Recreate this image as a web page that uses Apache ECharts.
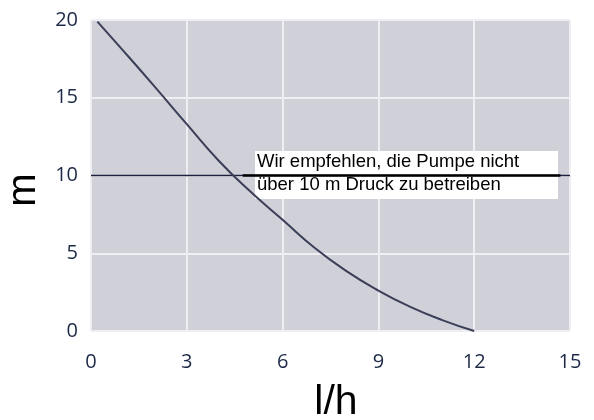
<!DOCTYPE html>
<html>
<head>
<meta charset="utf-8">
<script src="https://cdn.jsdelivr.net/npm/echarts@6/dist/echarts.min.js"></script>
<style>
html,body{margin:0;padding:0;background:#fff;}
#chart{width:594px;height:420px;}
</style>
</head>
<body>
<div id="chart"></div>
<script>
// Data
const xTicks = [0, 3, 6, 9, 12, 15];
const yTicks = [0, 5, 10, 15, 20];
const flow = [0.2, 1, 2, 3, 4, 5, 6, 7, 8, 9, 10, 11, 12];                          // l/h
const head = [19.9, 18.05, 15.7, 13.3, 10.95, 8.95, 7.15, 5.35, 3.85, 2.6, 1.55, 0.7, 0]; // m
const limitX = [0, 15];
const limitY = [10, 10];
const limitBoxX = [4.75, 14.7];
const noteLines = ['Wir empfehlen, die Pumpe nicht', 'über 10 m Druck zu betreiben'];
const xName = 'l/h';
const yName = 'm';

const chart = echarts.init(document.getElementById('chart'), null, {renderer: 'canvas'});
const labelStyle = {color: '#1d2947', fontSize: 20, fontFamily: 'Open Sans'};

chart.setOption({
  animation: false,
  grid: {left: 91, right: 24, top: 20, bottom: 89, show: true, backgroundColor: '#cfd0d8',
         borderWidth: 0, containLabel: false, outerBoundsMode: 'none'},
  xAxis: {
    type: 'value', min: xTicks[0], max: xTicks[xTicks.length - 1], interval: 3,
    axisLine: {show: false}, axisTick: {show: false},
    axisLabel: Object.assign({margin: 21}, labelStyle),
    splitLine: {show: true, lineStyle: {color: '#eeeef3', width: 2}}
  },
  yAxis: {
    type: 'value', min: yTicks[0], max: yTicks[yTicks.length - 1], interval: 5,
    axisLine: {show: false}, axisTick: {show: false},
    axisLabel: Object.assign({margin: 13}, labelStyle),
    splitLine: {show: true, lineStyle: {color: '#eeeef3', width: 2}}
  },
  graphic: [
    {type: 'rect', left: 255, top: 151, z: 1,
     shape: {x: 0, y: 0, width: 303, height: 48}, style: {fill: '#ffffff'}},
    {type: 'text', left: 257, top: 150.5, z: 10, style: {
      text: noteLines.join('\n'), fill: '#000', fontSize: 18.5, lineHeight: 23,
      fontFamily: 'Liberation Sans'}},
    {type: 'text', x: 336, y: 403, z: 1, style: {text: xName, fill: '#000', fontSize: 41,
      fontFamily: 'Liberation Sans', align: 'center', verticalAlign: 'middle'}},
    {type: 'text', x: 24, y: 190, rotation: Math.PI / 2, z: 1, style: {text: yName, fill: '#000', fontSize: 40,
      fontFamily: 'Liberation Sans', align: 'center', verticalAlign: 'middle'}}
  ],
  series: [
    {type: 'line', data: limitX.map((x, i) => [x, limitY[i]]), symbol: 'none', z: 3,
     lineStyle: {color: '#1c2140', width: 1.6}},
    {type: 'line', data: limitBoxX.map((x) => [x, limitY[0]]), symbol: 'none', z: 4,
     lineStyle: {color: '#000000', width: 2.6}},
    {type: 'line', data: flow.map((x, i) => [x, head[i]]), symbol: 'none', smooth: 0.5,
     z: 5, lineStyle: {color: '#3b3e57', width: 2}}
  ]
});
</script>
</body>
</html>
